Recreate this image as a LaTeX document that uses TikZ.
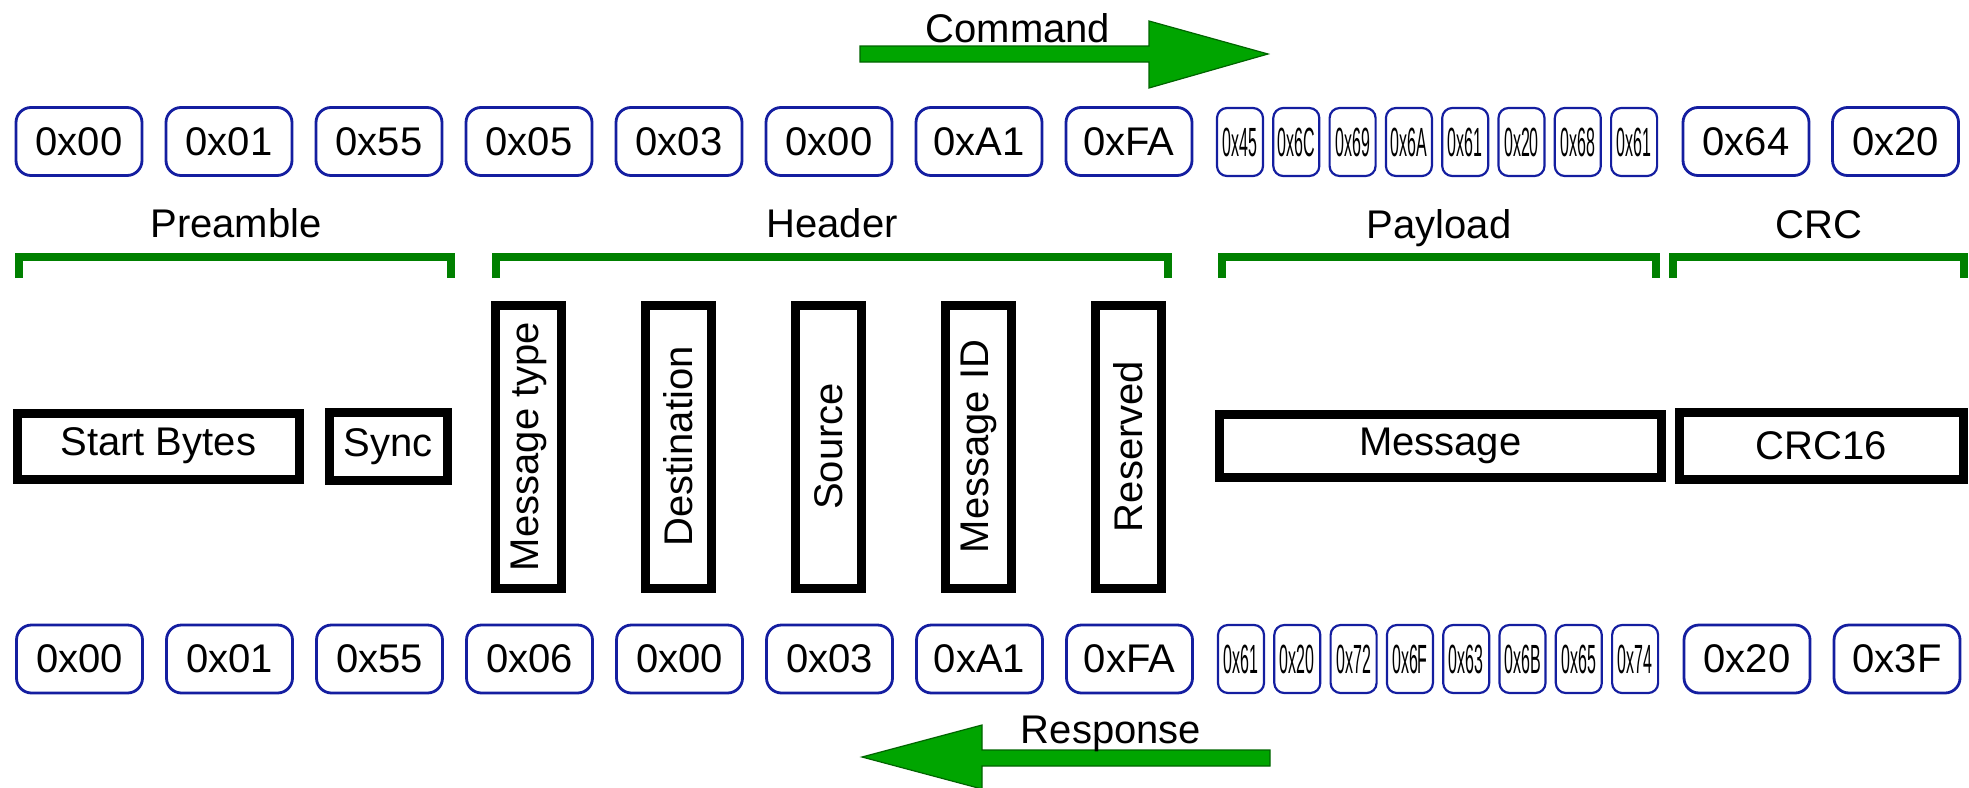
\documentclass[tikz,border=0pt]{standalone}
\usepackage{fontspec}
\setmainfont{Liberation Sans}
\usepackage{graphicx}
\definecolor{bytblue}{RGB}{20,30,160}
\definecolor{brgreen}{RGB}{0,128,0}
\definecolor{arrfill}{RGB}{0,165,0}
\definecolor{arrline}{RGB}{0,100,0}
\begin{document}
\begin{tikzpicture}[x=0.5pt,y=-0.5pt,
  every node/.style={font=\fontsize{20pt}{24pt}\selectfont, text=black},
  byte/.style={draw=bytblue, line width=1.4pt, rounded corners=7.5pt, minimum width=63pt, minimum height=34pt, inner sep=0pt},
  sbyte/.style={draw=bytblue, line width=1.1pt, rounded corners=5pt, minimum width=23pt, minimum height=34pt, inner sep=0pt},
  field/.style={draw=black, line width=4.5pt, inner sep=0pt},
  bracket/.style={draw=brgreen, line width=4pt},
  blockarrow/.style={fill=arrfill, draw=arrline, line width=0.6pt},
  lbl/.style={anchor=base, inner sep=0pt}]
\useasboundingbox (0,0) rectangle (1969,787);

% block arrows
\draw[blockarrow] (860,46) -- (1149,46) -- (1149,21) -- (1268,54) -- (1149,88) -- (1149,62) -- (860,62) -- cycle;
\draw[blockarrow] (1270,750) -- (982,750) -- (982,725) -- (862,757) -- (982,789) -- (982,766) -- (1270,766) -- cycle;
\node[lbl] (cmd) at (1018,42) {Command};
\node[lbl] (resp) at (1111,743) {Response};

% top row
\foreach \v [count=\i from 0] in {0x00,0x01,0x55,0x05,0x03,0x00,0xA1,0xFA}
  \node[byte] (t\i) at ({79+150*\i},141.5) {\v};
\foreach \v [count=\i from 0] in {0x45,0x6C,0x69,0x6A,0x61,0x20,0x68,0x61}
  \node[sbyte] (ts\i) at ({1240+56.3*\i},142) {\scalebox{0.4}[1.02]{\v}};
\node[byte] (tc0) at (1746,141.5) {0x64};
\node[byte] (tc1) at (1895.5,141.5) {0x20};

% bottom row
\foreach \v [count=\i from 0] in {0x00,0x01,0x55,0x06,0x00,0x03,0xA1,0xFA}
  \node[byte] (b\i) at ({79.5+150*\i},659) {\v};
\foreach \v [count=\i from 0] in {0x61,0x20,0x72,0x6F,0x63,0x6B,0x65,0x74}
  \node[sbyte] (bs\i) at ({1241+56.3*\i},659) {\scalebox{0.4}[1.02]{\v}};
\node[byte] (bc0) at (1747,659) {0x20};
\node[byte] (bc1) at (1897,659) {0x3F};

% section labels
\node[lbl] (lpre) at (236,237) {Preamble};
\node[lbl] (lhdr) at (832,237) {Header};
\node[lbl] (lpay) at (1439,238) {Payload};
\node[lbl] (lcrc) at (1819,238) {CRC};

% brackets
\draw[bracket] (18.5,278) -- (18.5,257) -- (451,257) -- (451,278);
\draw[bracket] (496,278) -- (496,257) -- (1168,257) -- (1168,278);
\draw[bracket] (1222,278) -- (1222,257) -- (1656,257) -- (1656,278);
\draw[bracket] (1673,278) -- (1673,257) -- (1963.5,257) -- (1963.5,278);

% fields
\node[field, minimum width=141.25pt, minimum height=33pt] (start) at (158.25,446) {Start Bytes};
\node[field, minimum width=59pt, minimum height=34pt] (sync) at (388,446.5) {Sync};
\foreach \t [count=\i from 0] in {Message type,Destination,Source,Message ID,Reserved}
  \node[field, rotate=90, minimum width=141.5pt, minimum height=33pt] (h\i) at ({528.5+150*\i},446.5) {\t};
\node[field, minimum width=220.75pt, minimum height=31.75pt] (msg) at (1440.25,445.75) {Message};
\node[field, minimum width=142.35pt, minimum height=33.5pt] (crc) at (1821.35,446) {CRC16};
\end{tikzpicture}
\end{document}
